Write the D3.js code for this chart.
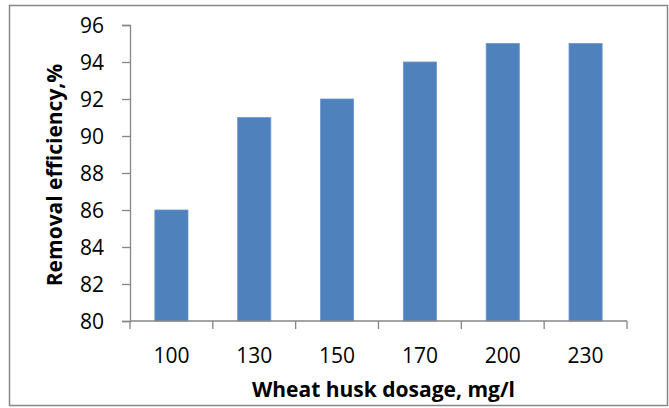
<!DOCTYPE html>
<html>
<head>
<meta charset="utf-8">
<script src="https://cdn.jsdelivr.net/npm/d3@7"></script>
<style>
  body { margin: 0; background: #fff; }
  svg text { font-family: "Open Sans", "Liberation Sans", sans-serif; fill: #000; }
</style>
</head>
<body>
<div id="chart"></div>
<script>
var dosages = ["100", "130", "150", "170", "200", "230"];
var efficiency = [86, 91, 92, 94, 95, 95];
var yTicks = [80, 82, 84, 86, 88, 90, 92, 94, 96];

var W = 669, H = 408;
var margin = {top: 25, right: 42, bottom: 87, left: 130},
    width = 627 - margin.left,
    height = 321 - margin.top;

var svg = d3.select("#chart")
    .append("svg")
    .attr("width", W)
    .attr("height", H);

// outer frame
svg.append("rect")
    .attr("x", 9.5).attr("y", 5.5)
    .attr("width", 658).attr("height", 400)
    .attr("fill", "none")
    .attr("stroke", "#878787")
    .attr("stroke-width", 1.5);

var g = svg.append("g")
    .attr("transform", `translate(${margin.left}, ${margin.top})`);

var x = d3.scaleBand()
    .domain(dosages)
    .range([0, width])
    .padding(0);
var y = d3.scaleLinear()
    .domain([80, 96])
    .range([height, 0]);

var barW = x.bandwidth() * 0.4;

g.selectAll("rect.bar")
    .data(efficiency)
    .enter().append("rect")
    .attr("class", "bar")
    .attr("x", function(d, i) { return x(dosages[i]) + (x.bandwidth() - barW) / 2; })
    .attr("y", function(d) { return y(d); })
    .attr("width", barW)
    .attr("height", function(d) { return height - y(d); })
    .attr("fill", "#4F81BD")
    .attr("stroke", "#6b97cc")
    .attr("stroke-width", 0.8);

// y axis
var yAxis = d3.axisLeft(y).tickValues(yTicks).tickSize(8).tickPadding(18);
var ya = g.append("g").call(yAxis);
ya.select(".domain").attr("stroke", "#868686").attr("stroke-width", 1.3);
ya.selectAll(".tick line").attr("stroke", "#868686").attr("stroke-width", 1.3);
ya.selectAll(".tick text").style("font-size", "21px").attr("dy", "0.35em");

// x axis with ticks at band boundaries
var xa = g.append("g").attr("transform", `translate(0, ${height})`);
xa.append("line")
    .attr("x1", 0).attr("x2", width)
    .attr("y1", 0).attr("y2", 0)
    .attr("stroke", "#868686").attr("stroke-width", 1.3);
var bounds = dosages.map(function(d) { return x(d); }).concat([width]);
xa.selectAll("line.tk")
    .data(bounds)
    .enter().append("line")
    .attr("class", "tk")
    .attr("x1", function(d) { return d; }).attr("x2", function(d) { return d; })
    .attr("y1", 0).attr("y2", 8)
    .attr("stroke", "#868686").attr("stroke-width", 1.3);
xa.selectAll("text.lbl")
    .data(dosages)
    .enter().append("text")
    .attr("class", "lbl")
    .attr("x", function(d) { return x(d) + x.bandwidth() / 2; })
    .attr("y", 42)
    .attr("text-anchor", "middle")
    .style("font-size", "21px")
    .text(function(d) { return d; });

// axis titles
svg.append("text")
    .attr("x", margin.left + width / 2 + 5)
    .attr("y", 397)
    .attr("text-anchor", "middle")
    .style("font-size", "21px")
    .style("font-weight", "bold")
    .text("Wheat husk dosage, mg/l");

svg.append("text")
    .attr("transform", `translate(62, 175) rotate(-90)`)
    .attr("text-anchor", "middle")
    .style("font-size", "21px")
    .style("font-weight", "bold")
    .text("Removal efficiency,%");
</script>
</body>
</html>
